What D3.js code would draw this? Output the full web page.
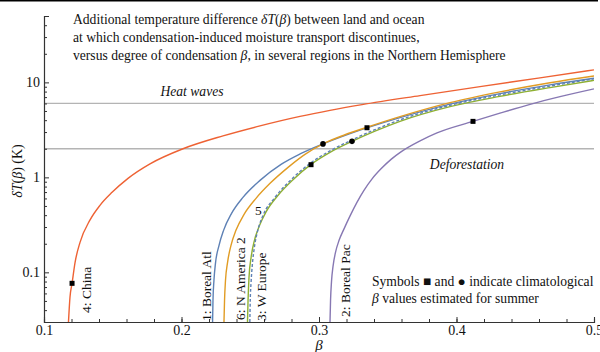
<!DOCTYPE html>
<html>
<head>
<meta charset="utf-8">
<script src="https://cdn.jsdelivr.net/npm/d3@7"></script>
<style>
  body { margin: 0; background: #fff; }
  svg { display: block; }
  text { font-family: "Liberation Serif", "Times New Roman", serif; fill: #111; }
</style>
</head>
<body>
<div id="chart"></div>
<script>
// curves: [beta, deltaT in K]
var borealAtl = [[0.2226,0.03],[0.2229,0.0507],[0.2236,0.0824],[0.2247,0.1244],[0.2273,0.1924],[0.2306,0.2767],[0.2364,0.418],[0.2447,0.616],[0.2571,0.930],[0.2724,1.370],[0.2862,1.763],[0.3029,2.252],[0.3226,2.891],[0.3589,4.262],[0.3953,5.910],[0.4316,7.622],[0.468,9.412],[0.5,11.05]];
var borealPac = [[0.308,0.03],[0.3084,0.0507],[0.3091,0.0804],[0.3102,0.1157],[0.312,0.1623],[0.3146,0.2172],[0.3182,0.287],[0.3226,0.3933],[0.3276,0.5456],[0.3327,0.7298],[0.3386,0.9643],[0.3451,1.229],[0.3524,1.547],[0.3596,1.855],[0.3735,2.422],[0.3858,2.940],[0.412,3.886],[0.4316,4.741],[0.4535,5.868],[0.4753,7.071],[0.5,8.543]];
var wEurope = [[0.248,0.03],[0.2484,0.0507],[0.2491,0.0886],[0.2506,0.1432],[0.2531,0.2188],[0.2564,0.3034],[0.2615,0.4334],[0.2695,0.6294],[0.2811,0.9458],[0.2942,1.370],[0.308,1.833],[0.324,2.393],[0.3407,3.064],[0.3589,3.886],[0.3953,5.549],[0.4316,7.122],[0.468,8.816],[0.5,10.50]];
var china = [[0.1178,0.03],[0.1189,0.0546],[0.1204,0.0766],[0.1226,0.1274],[0.1262,0.2069],[0.1335,0.3569],[0.1407,0.5074],[0.1495,0.695],[0.1611,0.9761],[0.1771,1.387],[0.2011,2.0],[0.2302,2.734],[0.2571,3.484],[0.2862,4.386],[0.308,5.074],[0.3313,5.826],[0.3735,7.262],[0.4171,9.034],[0.4607,11.15],[0.5,13.54]];
var region5 = [[0.2497,0.03],[0.25,0.0507],[0.2506,0.0785],[0.2516,0.1244],[0.2531,0.1878],[0.2553,0.2701],[0.2593,0.3981],[0.268,0.616],[0.2796,0.9412],[0.2935,1.404],[0.308,1.900],[0.324,2.481],[0.3407,3.178],[0.3589,4.030],[0.3953,5.741],[0.4316,7.386],[0.468,9.143],[0.5,10.89]];
var nAmerica2 = [[0.2309,0.03],[0.2313,0.0507],[0.232,0.0824],[0.2335,0.1274],[0.236,0.1924],[0.2396,0.2767],[0.2455,0.4077],[0.2542,0.601],[0.2644,0.8647],[0.2775,1.274],[0.2898,1.746],[0.3029,2.252],[0.3189,2.808],[0.3349,3.368],[0.3589,4.355],[0.3953,6.114],[0.4316,7.943],[0.468,9.904],[0.5,11.68]];

// climatological summer beta values
var squareMarks = [[0.1204,0.0766],[0.2942,1.36],[0.3349,3.33],[0.412,3.886]];
var circleMarks = [[0.3029,2.252],[0.324,2.393]];

var heatWaves = 6, deforestation = 2;
var xTicks = [0.1, 0.2, 0.3, 0.4, 0.5];
var yTicks = [0.1, 1, 10];

var width = 600, height = 352;
var plotL = 44, plotR = 594, plotT = 16, plotB = 322;

var svg = d3.select("#chart").append("svg")
  .attr("width", width)
  .attr("height", height);

var x = d3.scaleLinear().domain([0.1, 0.5]).range([plotL, plotR]);
var y = d3.scaleLog().domain([0.03, 50]).range([plotB, plotT]);

// black rule along the very top
svg.append("line")
  .attr("x1", 0).attr("x2", 598).attr("y1", 0.75).attr("y2", 0.75)
  .attr("stroke", "#000").attr("stroke-width", 1.5);

svg.append("clipPath").attr("id", "plot")
  .append("rect").attr("x", plotL).attr("y", plotT)
  .attr("width", plotR - plotL).attr("height", plotB - plotT);

// reference levels
[heatWaves, deforestation].forEach(function (v) {
  svg.append("line")
    .attr("x1", plotL).attr("x2", plotR)
    .attr("y1", y(v)).attr("y2", y(v))
    .attr("stroke", "#b4b4b4").attr("stroke-width", 1.3);
});

var line = d3.line()
  .x(function (d) { return x(d[0]); })
  .y(function (d) { return y(d[1]); })
  .curve(d3.curveMonotoneX);

var series = [
  { data: china, color: "#ee6234" },
  { data: borealPac, color: "#8778b3" },
  { data: borealAtl, color: "#5e81b5" },
  { data: nAmerica2, color: "#e19c24" },
  { data: wEurope, color: "#8fb032" },
  { data: region5, color: "#5e81b5", dash: "3,2" }
];

var curves = svg.append("g").attr("clip-path", "url(#plot)");
series.forEach(function (s) {
  curves.append("path")
    .attr("d", line(s.data))
    .attr("fill", "none")
    .attr("stroke", s.color)
    .attr("stroke-width", 1.4)
    .attr("stroke-dasharray", s.dash || null);
});

// markers
svg.selectAll("rect.mark").data(squareMarks).enter()
  .append("rect").attr("class", "mark")
  .attr("x", function (d) { return x(d[0]) - 2.5; })
  .attr("y", function (d) { return y(d[1]) - 2.5; })
  .attr("width", 5).attr("height", 5)
  .attr("fill", "#000");

svg.selectAll("circle.mark").data(circleMarks).enter()
  .append("circle").attr("class", "mark")
  .attr("cx", function (d) { return x(d[0]); })
  .attr("cy", function (d) { return y(d[1]); })
  .attr("r", 2.8)
  .attr("fill", "#000");

// axes
svg.append("g")
  .attr("transform", "translate(0," + plotB + ")")
  .call(d3.axisBottom(x).tickValues(xTicks).tickSize(-5).tickPadding(3)
    .tickFormat(d3.format(".1f")));
svg.append("g")
  .attr("transform", "translate(0," + plotB + ")")
  .call(d3.axisBottom(x).tickValues(d3.range(0.12, 0.5, 0.02)).tickSize(-3).tickFormat(""));

svg.append("g")
  .attr("transform", "translate(" + plotL + ",0)")
  .call(d3.axisLeft(y).tickValues(yTicks).tickSize(-5).tickPadding(4)
    .tickFormat(function (d) { return d < 1 ? "0.1" : d3.format("d")(d); }));
var minorY = [];
[0.01, 0.1, 1, 10].forEach(function (p) {
  for (var k = 2; k <= 9; k++) {
    var v = p * k;
    if (v >= 0.03 && v <= 50.001) minorY.push(v);
  }
});
svg.append("g")
  .attr("transform", "translate(" + plotL + ",0)")
  .call(d3.axisLeft(y).tickValues(minorY).tickSize(-3).tickFormat(""));

svg.selectAll(".domain").attr("stroke", "#333").attr("stroke-width", 1.1);
svg.selectAll(".tick line").attr("stroke", "#333");
svg.selectAll(".tick text").style("font-size", "14px")
  .style("font-family", "Liberation Serif, serif").attr("fill", "#111");

// axis titles
svg.append("text")
  .attr("x", x(0.3)).attr("y", 350)
  .attr("text-anchor", "middle")
  .style("font-size", "15px").style("font-style", "italic")
  .text("β");

var yl = svg.append("text")
  .attr("transform", "translate(22,171) rotate(-90)")
  .attr("text-anchor", "middle")
  .style("font-size", "14px");
yl.append("tspan").style("font-style", "italic").text("δT");
yl.append("tspan").text("(");
yl.append("tspan").style("font-style", "italic").text("β");
yl.append("tspan").text(") (K)");

// title block
var fs = "13.6px";
var title = svg.append("text").attr("x", 73).attr("y", 24).style("font-size", fs);
title.append("tspan").text("Additional temperature difference ");
title.append("tspan").style("font-style", "italic").text("δT");
title.append("tspan").text("(");
title.append("tspan").style("font-style", "italic").text("β");
title.append("tspan").text(") between land and ocean");
svg.append("text").attr("x", 73).attr("y", 42).style("font-size", fs)
  .text("at which condensation-induced moisture transport discontinues,");
var t3 = svg.append("text").attr("x", 73).attr("y", 60).style("font-size", fs);
t3.append("tspan").text("versus degree of condensation ");
t3.append("tspan").style("font-style", "italic").text("β");
t3.append("tspan").text(", in several regions in the Northern Hemisphere");

// level labels
svg.append("text").attr("x", 192).attr("y", 96)
  .attr("text-anchor", "middle")
  .style("font-size", fs).style("font-style", "italic")
  .text("Heat waves");
svg.append("text").attr("x", 467).attr("y", 169)
  .attr("text-anchor", "middle")
  .style("font-size", fs).style("font-style", "italic")
  .text("Deforestation");

// curve labels (rotated)
var curveLabels = [
  { text: "4: China", bx: 90.5, by: 313 },
  { text: "1: Boreal Atl", bx: 211, by: 321 },
  { text: "6: N America 2", bx: 244.5, by: 320 },
  { text: "3: W Europe", bx: 266, by: 321 },
  { text: "2: Boreal Pac", bx: 349.5, by: 317 }
];
curveLabels.forEach(function (c) {
  svg.append("text")
    .attr("transform", "translate(" + c.bx + "," + c.by + ") rotate(-90)")
    .style("font-size", "13.5px")
    .text(c.text);
});
svg.append("text").attr("x", 255).attr("y", 215)
  .style("font-size", "13.5px")
  .text("5");

// note
svg.append("text").attr("x", 372).attr("y", 286).style("font-size", fs)
  .text("Symbols ■ and ● indicate climatological");
var n2 = svg.append("text").attr("x", 372).attr("y", 303).style("font-size", fs);
n2.append("tspan").style("font-style", "italic").text("β");
n2.append("tspan").text(" values estimated for summer");
</script>
</body>
</html>
